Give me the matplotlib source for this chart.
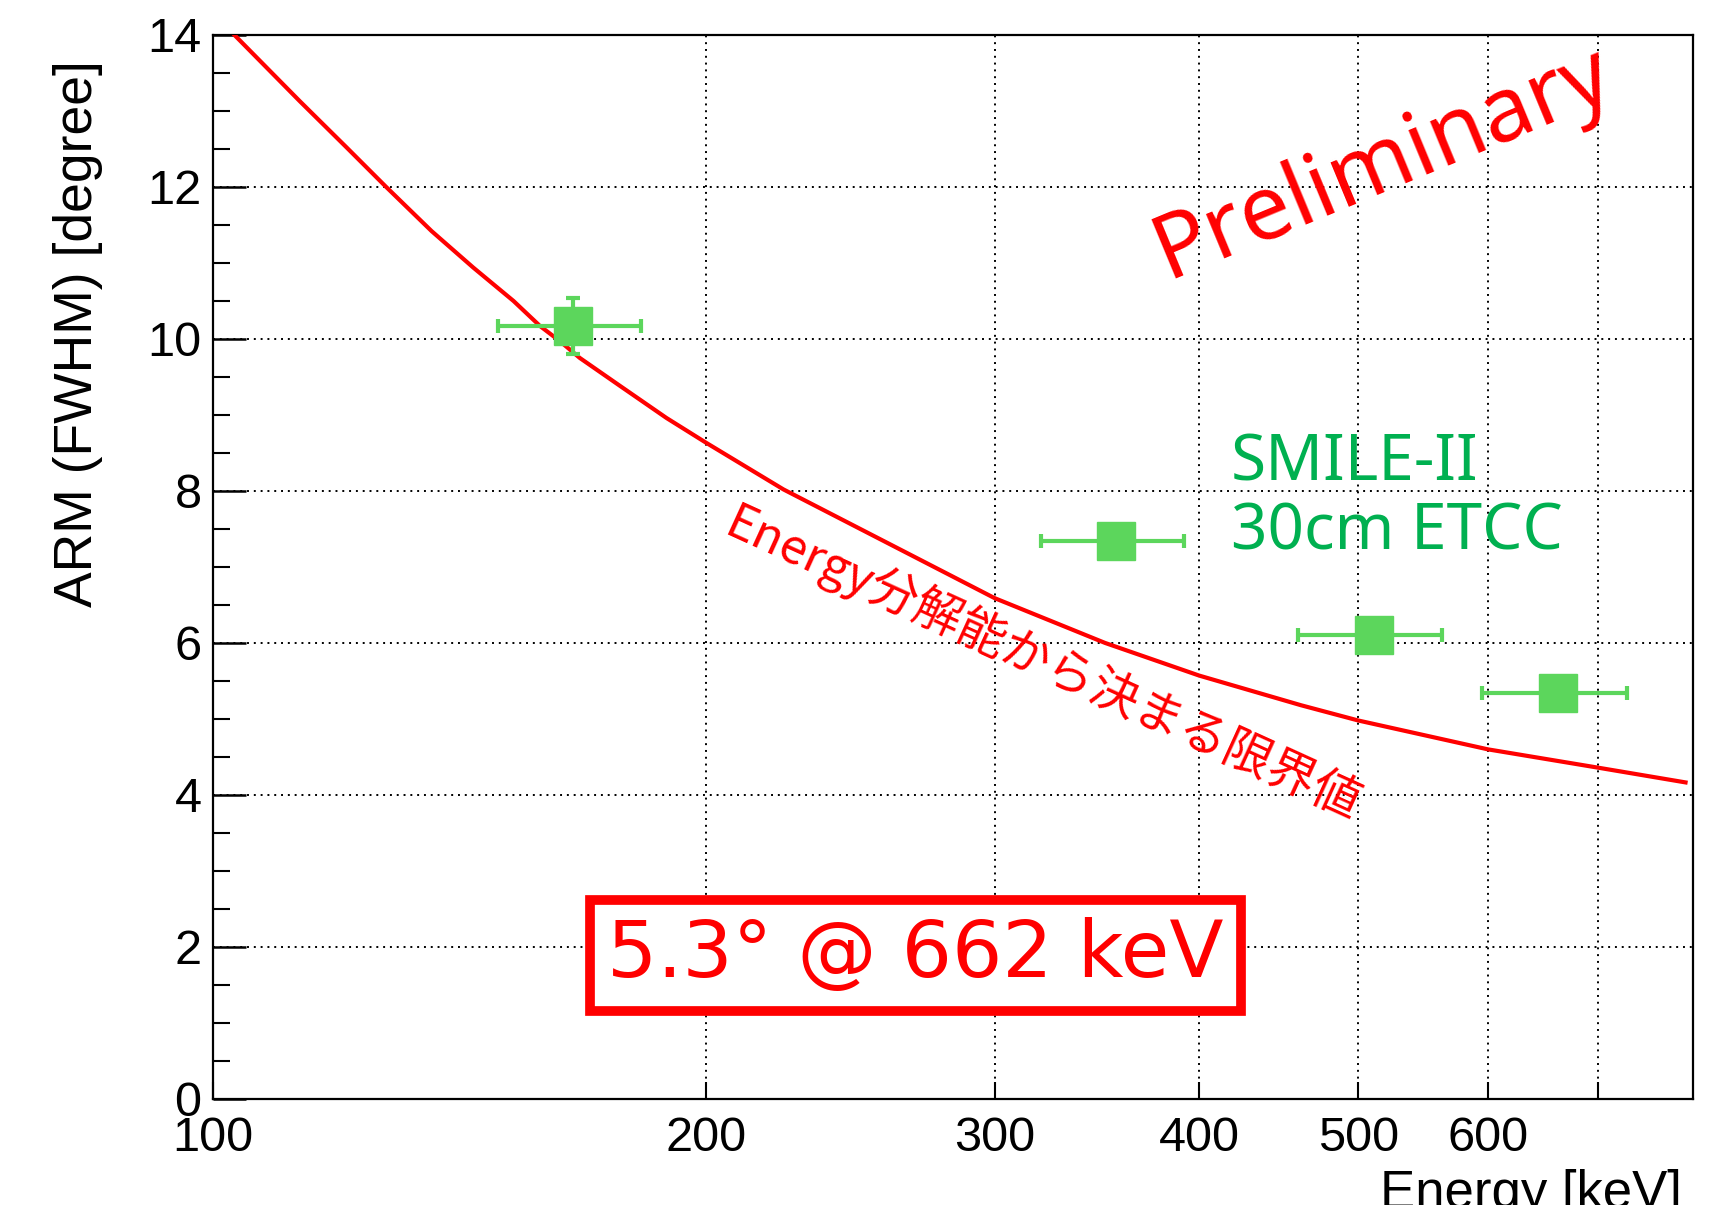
import matplotlib

matplotlib.use("Agg")
import matplotlib.pyplot as plt
from matplotlib.ticker import FixedLocator, NullFormatter, NullLocator

RED = "#FF0000"
GREEN_PT = "#5CD65C"
GREEN_TXT = "#00B050"
INK = "#000000"

# limit curve from energy resolution
curve_e = [103.1, 113.0, 120.7, 127.6, 136.0, 144.2, 152.6, 158.4, 162.9,
           167.5, 177.3, 189.2, 200.0, 223.0, 260.0, 300.0, 350.4, 400.0,
           461.5, 500.0, 600.0, 700.0, 792.0]
curve_arm = [14.0, 13.13, 12.52, 12.0, 11.42, 10.94, 10.50, 10.17, 9.97,
             9.75, 9.38, 8.96, 8.635, 8.02, 7.28, 6.59, 6.0, 5.57,
             5.18, 4.98, 4.60, 4.36, 4.165]

# SMILE-II measured points
pt_e = [166.0, 356.0, 511.0, 662.0]
pt_e_err = [16.6, 35.6, 51.5, 67.0]
pt_arm = [10.17, 7.34, 6.11, 5.34]
pt_arm_err = [0.37, 0.15, 0.15, 0.15]

x_ticks = [100, 200, 300, 400, 500, 600, 700]
x_labels = ["100", "200", "300", "400", "500", "600", ""]
y_major = [0, 2, 4, 6, 8, 10, 12, 14]

fig = plt.figure(figsize=(17.29, 12.05), dpi=100)
ax = fig.add_axes([0.123, 0.088, 0.856, 0.883])

ax.set_xscale("log")
ax.set_xlim(100, 800)
ax.set_ylim(0, 14)

# grid
for g in [200, 300, 400, 500, 600, 700]:
    ax.axvline(g, color=INK, ls=(0, (1, 2.5)), lw=1.4, zorder=1)
for g in [2, 4, 6, 8, 10, 12]:
    ax.axhline(g, color=INK, ls=(0, (1, 2.5)), lw=1.4, zorder=1)

ax.plot(curve_e, curve_arm, color=RED, lw=3.0, zorder=3)

ax.errorbar(pt_e, pt_arm, xerr=pt_e_err, yerr=pt_arm_err, fmt="s",
            color=GREEN_PT, ms=27, mec=GREEN_PT, elinewidth=3,
            capsize=5, capthick=3, zorder=4)

# ticks (ROOT style, inward)
ax.xaxis.set_major_locator(FixedLocator(x_ticks))
ax.xaxis.set_minor_locator(NullLocator())
ax.set_xticklabels(x_labels)
ax.xaxis.set_minor_formatter(NullFormatter())
ax.set_yticks(y_major)
ax.set_yticks([v + 0.5 * k for v in range(0, 14, 2) for k in (1, 2, 3)], minor=True)
ax.tick_params(axis="x", which="major", direction="in", length=12, width=1.5,
               labelsize=35, pad=12)
ax.tick_params(axis="y", which="major", direction="in", length=24, width=1.8,
               labelsize=35, pad=8)
ax.tick_params(axis="y", which="minor", direction="in", length=12, width=1.5)
for lab in ax.get_xticklabels() + ax.get_yticklabels():
    lab.set_family("Liberation Sans")
for sp in ax.spines.values():
    sp.set_linewidth(1.6)

fig.text(0.045, 0.95, "ARM (FWHM) [degree]", rotation=90, ha="center",
         va="top", fontsize=38.5, family="Liberation Sans")
fig.text(0.973, 0.03, "Energy [keV]", ha="right", va="top", fontsize=38,
         family="Liberation Sans")

# annotations
ax.text(518, 12.3, "Preliminary", color=RED, fontsize=65, rotation=22.5,
        ha="center", va="center", rotation_mode="anchor", family="Noto Sans")
ax.text(418, 7.91, "SMILE-II\n30cm ETCC", color=GREEN_TXT, fontsize=46,
        ha="left", va="center", linespacing=1.1, family="Noto Sans")
ax.text(321, 5.73, "Energy分解能から決まる限界値", color=RED, fontsize=35,
        rotation=-24.5, ha="center", va="center", rotation_mode="anchor",
        family=["Noto Sans CJK JP", "DejaVu Sans"])
ax.text(268.5, 1.89, "5.3° @ 662 keV", color=RED, fontsize=57,
        ha="center", va="center", family="DejaVu Sans", zorder=5,
        bbox=dict(boxstyle="square,pad=0.22", fc="white", ec=RED, lw=7))

fig.savefig("out.png", dpi=100, facecolor="white")
